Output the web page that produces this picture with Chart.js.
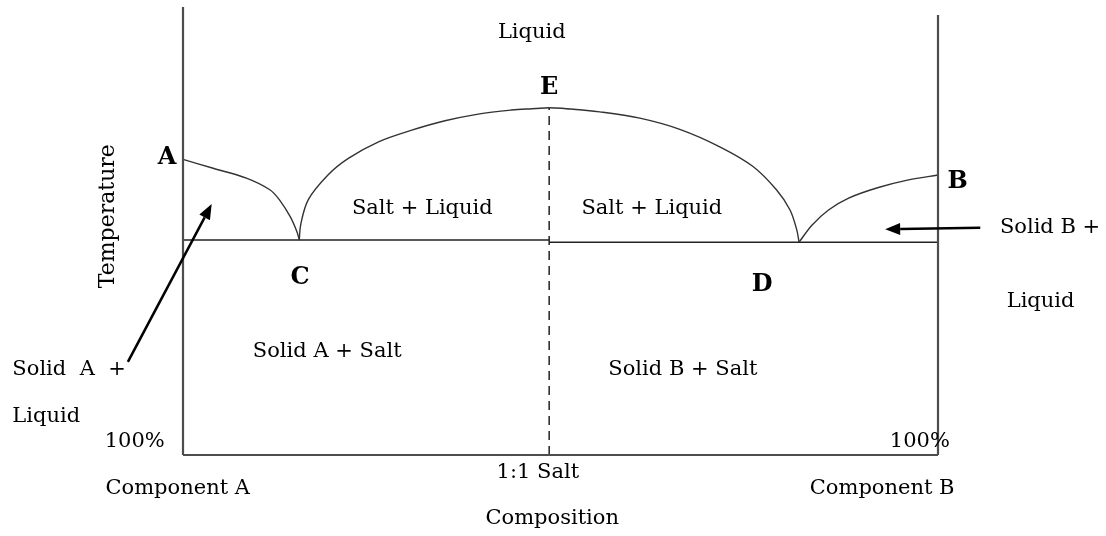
<!DOCTYPE html>
<html>
<head>
<meta charset="utf-8">
<title>Phase diagram</title>
<script src="https://cdn.jsdelivr.net/npm/chart.js@4.4.0/dist/chart.umd.min.js"></script>
<style>
  html, body { margin: 0; padding: 0; background: #fff; }
  canvas { display: block; }
</style>
</head>
<body>
<canvas id="phaseChart" width="1106" height="536"></canvas>
<script>
// composition runs 0 (pure A) to 100 (pure B), temperature in arbitrary units

// liquidus branches, read left to right
const branchAC_comp = [0, 4.0, 8.4, 11.5, 12.8, 14.2, 15.1, 15.4];
const branchAC_temp = [66.0, 64.0, 61.8, 59.2, 56.9, 53.2, 49.8, 48.0];

const branchCE_comp = [15.4, 15.6, 16.6, 19.2, 21.9, 25.9, 30.3, 34.7, 39.1, 43.5, 46.2, 48.5];
const branchCE_temp = [48.0, 51.5, 57.0, 62.5, 66.2, 69.9, 72.5, 74.6, 76.1, 77.0, 77.3, 77.5];

const branchED_comp = [48.5, 50.8, 55.2, 60.5, 65.8, 71.1, 75.5, 78.6, 80.4, 81.3, 81.6];
const branchED_temp = [77.5, 77.3, 76.6, 75.2, 72.7, 68.8, 64.4, 59.2, 54.7, 50.2, 47.5];

const branchDB_comp = [81.6, 83.3, 85.5, 88.1, 92.1, 96.1, 100];
const branchDB_temp = [47.5, 51.3, 54.7, 57.3, 59.7, 61.4, 62.5];

// eutectic lines and the 1:1 salt composition
const eutecticLeftTemp = 48.0;
const eutecticRightTemp = 47.5;
const saltComp = 48.5;
const saltTopTemp = 77.5;

// heights of the two temperature axes
const axisATop = 100;
const axisBTop = 98.2;

function pts(xs, ys) {
    return xs.map((x, i) => ({ x: x, y: ys[i] }));
}

const ink = '#222';
const frameColor = '#4d4d4d';

const line = (data, extra) => Object.assign({
    data: data,
    showLine: true,
    pointRadius: 0,
    borderColor: ink,
    borderWidth: 1.5,
    fill: false,
    clip: false
}, extra || {});

const curve = { borderColor: '#333', borderWidth: 1.4, tension: 0.35 };

const datasets = [
    // frame: both temperature axes and the composition axis
    line([{ x: 0, y: 0 }, { x: 0, y: axisATop }], { borderColor: frameColor, borderWidth: 2.2 }),
    line([{ x: 100, y: 0 }, { x: 100, y: axisBTop }], { borderColor: frameColor, borderWidth: 2.2 }),
    line([{ x: 0, y: 0 }, { x: 100, y: 0 }], { borderColor: frameColor, borderWidth: 2.2 }),

    // liquidus
    line(pts(branchAC_comp, branchAC_temp), curve),
    line(pts(branchCE_comp, branchCE_temp), curve),
    line(pts(branchED_comp, branchED_temp), curve),
    line(pts(branchDB_comp, branchDB_temp), curve),

    // eutectic horizontals
    line([{ x: 0, y: eutecticLeftTemp }, { x: saltComp, y: eutecticLeftTemp }], { borderWidth: 1.6 }),
    line([{ x: saltComp, y: eutecticRightTemp }, { x: 100, y: eutecticRightTemp }], { borderWidth: 1.6 }),

    // 1:1 salt composition
    line([{ x: saltComp, y: 0 }, { x: saltComp, y: saltTopTemp }], { borderWidth: 1.5, borderDash: [9, 6] })
];

const serif = '"DejaVu Serif", "Liberation Serif", serif';

// region names and point letters, placed in data units
const labels = [
    { t: 'Liquid', x: 46.2, y: 94.2 },
    { t: 'E', x: 48.5, y: 81.9, bold: true },
    { t: 'A', x: -2.1, y: 66.3, bold: true },
    { t: 'B', x: 102.6, y: 60.9, bold: true },
    { t: 'C', x: 15.5, y: 39.5, bold: true },
    { t: 'D', x: 76.7, y: 37.9, bold: true },
    { t: 'Salt + Liquid', x: 31.7, y: 55.1 },
    { t: 'Salt + Liquid', x: 62.1, y: 55.1 },
    { t: 'Solid A + Salt', x: 19.1, y: 23.0 },
    { t: 'Solid B + Salt', x: 66.2, y: 19.0 },
    { t: 'Solid  A  +', x: -22.6, y: 19.0, align: 'left' },
    { t: 'Liquid', x: -22.6, y: 8.5, align: 'left' },
    { t: '100%', x: -6.4, y: 2.9 },
    { t: 'Component A', x: -0.7, y: -7.4 },
    { t: '1:1 Salt', x: 47.0, y: -4.0 },
    { t: 'Composition', x: 48.9, y: -14.1 },
    { t: '100%', x: 97.6, y: 2.9 },
    { t: 'Component B', x: 92.6, y: -7.4 },
    { t: 'Solid B +', x: 108.2, y: 50.7, align: 'left' },
    { t: 'Liquid', x: 109.1, y: 34.2, align: 'left' },
    { t: 'Temperature', x: -9.9, y: 53.3, rotate: true }
];

// pointer arrows: tail -> tip
const arrows = [
    { x1: -7.3, y1: 20.8, x2: 3.8, y2: 56.0 },
    { x1: 105.6, y1: 50.7, x2: 93.0, y2: 50.4 }
];

const phaseLabels = {
    id: 'phaseLabels',
    afterDatasetsDraw(chart) {
        const { ctx, scales: { x, y } } = chart;
        ctx.save();
        ctx.fillStyle = '#000';
        ctx.textBaseline = 'middle';

        labels.forEach((l) => {
            const px = x.getPixelForValue(l.x);
            const py = y.getPixelForValue(l.y);
            ctx.font = l.bold ? 'bold 24px ' + serif : '21px ' + serif;
            ctx.textAlign = l.align || 'center';
            if (l.rotate) {
                ctx.save();
                ctx.translate(px, py);
                ctx.rotate(-Math.PI / 2);
                ctx.font = '22px ' + serif;
                ctx.fillText(l.t, 0, 0);
                ctx.restore();
            } else {
                ctx.fillText(l.t, px, py);
            }
        });

        ctx.strokeStyle = '#000';
        ctx.lineWidth = 2.5;
        arrows.forEach((a) => {
            const x1 = x.getPixelForValue(a.x1), y1 = y.getPixelForValue(a.y1);
            const x2 = x.getPixelForValue(a.x2), y2 = y.getPixelForValue(a.y2);
            const ang = Math.atan2(y2 - y1, x2 - x1);
            const head = 15, half = 6;
            const bx = x2 - head * Math.cos(ang), by = y2 - head * Math.sin(ang);
            ctx.beginPath();
            ctx.moveTo(x1, y1);
            ctx.lineTo(bx, by);
            ctx.stroke();
            ctx.beginPath();
            ctx.moveTo(x2, y2);
            ctx.lineTo(bx + half * Math.sin(ang), by - half * Math.cos(ang));
            ctx.lineTo(bx - half * Math.sin(ang), by + half * Math.cos(ang));
            ctx.closePath();
            ctx.fill();
        });
        ctx.restore();
    }
};

const phaseChart = new Chart(document.getElementById('phaseChart').getContext('2d'), {
    type: 'scatter',
    data: { datasets: datasets },
    options: {
        responsive: false,
        animation: false,
        layout: { padding: { left: 183, right: 168, top: 7, bottom: 81 } },
        plugins: {
            legend: { display: false },
            tooltip: { enabled: false }
        },
        scales: {
            x: { type: 'linear', min: 0, max: 100, display: false },
            y: { type: 'linear', min: 0, max: 100, display: false }
        }
    },
    plugins: [phaseLabels]
});
</script>
</body>
</html>
